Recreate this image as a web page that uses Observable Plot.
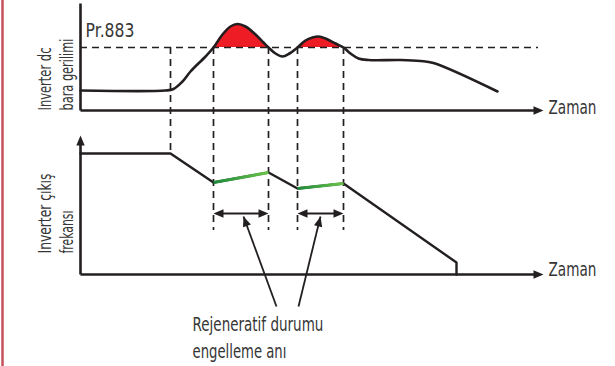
<!DOCTYPE html>
<html>
<head>
<meta charset="utf-8">
<script src="https://cdn.jsdelivr.net/npm/d3@7"></script>
<script src="https://cdn.jsdelivr.net/npm/@observablehq/plot@0.6"></script>
<style>
  html, body { margin: 0; padding: 0; background: #ffffff; }
  #chart svg { display: block; }
</style>
</head>
<body>
<div id="chart"></div>
<script>
// ---- Data (schematic units: time t from the axis origin; panel levels above each panel's time axis) ----
const eventTimes = [90, 133, 188, 217, 263];          // dashed event markers
const thresholdLevel = 63;                             // Pr.883 level (top panel)
const thresholdLabel = "Pr.883";

const voltageT = [0, 85, 93, 102, 110, 125, 133, 142, 150, 157, 165, 175, 183, 188, 195, 202, 209, 217, 225, 232, 238, 245, 255, 263, 270, 278, 288, 320, 340, 353, 417];
const voltageV = [20, 20, 21.5, 29, 39, 54, 63, 76, 84, 86.5, 84, 76, 68, 63, 57, 54, 57, 63, 70, 73, 74, 72, 67, 63, 57, 52, 50.5, 50.5, 49.5, 47.5, 19];

const freqT = [0, 90, 133, 188, 217, 263, 376, 376];
const freqF = [121, 121, 92, 102, 86, 91, 12, 0];

const topAxisLines = ["Inverter dc", "bara gerilimi"];
const bottomAxisLines = ["Inverter çıkış", "frekansı"];
const timeLabel = "Zaman";
const captionLines = ["Rejeneratif durumu", "engelleme anı"];

// ---- Layout of the two panels in the figure's level units ----
const TOP_BASE = 256;      // figure level of the top panel's time axis
const BOT_BASE = 92;       // figure level of the bottom panel's time axis
const T_END = 463;         // end of time axes (arrow tip)
const TOP_Y_END = 363;
const BOT_Y_END = 231;
const DASH_LOW = 136;      // lower end of the regen dashed markers
const SPAN_LEVEL = 153;    // double-arrow level
const INK = "#231f20";
const TXT = "#363636";
const FONT = "'DejaVu Sans', 'Liberation Sans', sans-serif";
// rendered text widths (px), to mimic the narrow typeface of the original
const textWidths = {
  "Pr.883": 49, "Zaman": 48, "Inverter dc": 63, "bara gerilimi": 72,
  "Inverter çıkış": 80, "frekansı": 43, "Rejeneratif durumu": 131, "engelleme anı": 94
};

const voltage = voltageT.map((t, i) => ({
  t, v: voltageV[i],
  hump: (t >= eventTimes[1] && t <= eventTimes[2]) ? 1 : (t >= eventTimes[3] && t <= eventTimes[4]) ? 2 : 0
}));
const freq = freqT.map((t, i) => ({t, f: freqF[i]}));
const greenSegs = [];
for (let i = 0; i < freq.length - 1; i++) {
  const a = freq[i], b = freq[i + 1];
  if ((a.t === eventTimes[1] && b.t === eventTimes[2]) || (a.t === eventTimes[3] && b.t === eventTimes[4])) greenSegs.push({a, b});
}

const axisLines = [
  {x1: 0, y1: TOP_Y_END, x2: 0, y2: TOP_BASE},
  {x1: 0, y1: TOP_BASE, x2: T_END - 4, y2: TOP_BASE},
  {x1: 0, y1: BOT_Y_END - 4, x2: 0, y2: BOT_BASE},
  {x1: 0, y1: BOT_BASE, x2: T_END - 4, y2: BOT_BASE}
];
const spans = [[eventTimes[1], eventTimes[2]], [eventTimes[3], eventTimes[4]]];
const pointers = [
  {x1: 196, y1: 60, x2: 163, y2: 150},
  {x1: 218, y1: 60, x2: 240, y2: 150}
];
const heads = [
  {x: T_END, y: TOP_BASE, r: 90},
  {x: T_END, y: BOT_BASE, r: 90},
  {x: 0, y: BOT_Y_END, r: 0},
  ...spans.flatMap(([a, b]) => [{x: a, y: SPAN_LEVEL, r: -90}, {x: b, y: SPAN_LEVEL, r: 90}]),
  ...pointers.map(p => ({x: p.x2, y: p.y2, r: Math.atan2(p.x2 - p.x1, p.y2 - p.y1) * 180 / Math.PI}))
];
const headShape = {
  draw(context, l) {
    context.moveTo(0, -l);
    context.lineTo(-l * 0.42, 0);
    context.lineTo(l * 0.42, 0);
    context.closePath();
  }
};

const dashes = [
  {x: eventTimes[0], y1: TOP_BASE + thresholdLevel, y2: BOT_BASE + freqF[0]},
  ...eventTimes.slice(1).map(t => ({x: t, y1: TOP_BASE + thresholdLevel, y2: DASH_LOW}))
];

const textOpts = {textAnchor: "start", lineAnchor: "bottom", fontFamily: FONT, fill: TXT, text: d => d};

const chart = Plot.plot({
  width: 615,
  height: 366,
  margin: 0,
  x: {domain: [-80, 535], range: [0, 615], axis: null},
  y: {domain: [0, 366], range: [366, 0], axis: null},
  style: {background: "#ffffff", overflow: "visible"},
  marks: [
    () => {
      const defs = d3.create("svg:defs");
      const g = defs.append("linearGradient").attr("id", "regenGreen")
        .attr("x1", "0").attr("x2", "1").attr("y1", "0").attr("y2", "0");
      g.append("stop").attr("offset", "0%").attr("stop-color", "#1d8a3b");
      g.append("stop").attr("offset", "100%").attr("stop-color", "#6cc34a");
      return defs.node();
    },
    // left page border
    Plot.ruleX([-78], {y1: 0, y2: 366, stroke: "#c5505b", strokeWidth: 2.5}),
    // red regenerative areas
    Plot.areaY(voltage, {filter: d => d.hump > 0, x: "t", y1: () => TOP_BASE + thresholdLevel, y2: d => TOP_BASE + d.v, z: "hump", fill: "#ee1d25", curve: "catmull-rom"}),
    // threshold dashed line
    Plot.ruleY([TOP_BASE + thresholdLevel], {x1: 0, x2: 458, stroke: INK, strokeWidth: 1.7, strokeDasharray: "7,5"}),
    // event dashed markers
    Plot.ruleX(dashes, {x: "x", y1: "y1", y2: "y2", stroke: INK, strokeWidth: 1.7, strokeDasharray: "7,5"}),
    // axes
    Plot.link(axisLines, {x1: "x1", y1: "y1", x2: "x2", y2: "y2", stroke: INK, strokeWidth: 2.6}),
    // voltage curve
    Plot.line(voltage, {x: "t", y: d => TOP_BASE + d.v, stroke: INK, strokeWidth: 2.6, curve: "catmull-rom"}),
    // frequency
    Plot.line(freq, {x: "t", y: d => BOT_BASE + d.f, stroke: INK, strokeWidth: 2.4, strokeLinejoin: "miter"}),
    Plot.link(greenSegs, {x1: d => d.a.t, y1: d => BOT_BASE + d.a.f, x2: d => d.b.t, y2: d => BOT_BASE + d.b.f, stroke: "url(#regenGreen)", strokeWidth: 3.2, strokeLinecap: "butt"}),
    // span double arrows
    Plot.link(spans, {x1: d => d[0] + 4, x2: d => d[1] - 4, y1: SPAN_LEVEL, y2: SPAN_LEVEL, stroke: INK, strokeWidth: 1.8}),
    // pointers
    Plot.link(pointers, {x1: "x1", y1: "y1", x2: "x2", y2: "y2", stroke: INK, strokeWidth: 1.8}),
    // arrowheads
    Plot.vector(heads, {x: "x", y: "y", rotate: "r", length: 10, anchor: "end", shape: headShape, fill: INK, stroke: "none"}),
    // texts
    Plot.text([thresholdLabel], {...textOpts, x: 5, y: 330, fontSize: 19}),
    Plot.text([timeLabel, timeLabel], {...textOpts, x: 468, y: (d, i) => i ? 91 : 253, fontSize: 20}),
    Plot.text(topAxisLines, {...textOpts, x: (d, i) => i ? -8 : -30, y: TOP_BASE, rotate: -90, fontSize: 17}),
    Plot.text(bottomAxisLines, {...textOpts, x: (d, i) => i ? -8 : -30, y: 113, rotate: -90, fontSize: 17}),
    Plot.text(captionLines, {...textOpts, x: 112, y: (d, i) => i ? 9 : 36, fontSize: 19})
  ]
});
document.getElementById("chart").append(chart);
// compress glyphs along the text direction to the original's narrow type widths
chart.querySelectorAll("text").forEach(el => {
  const w = textWidths[el.textContent];
  if (!w) return;
  const natural = el.getComputedTextLength();
  if (!natural) return;
  const k = w / natural;
  const tr = el.getAttribute("transform") || "";
  el.setAttribute("transform", `${tr} scale(${k.toFixed(4)},1)`.trim());
});
</script>
</body>
</html>
